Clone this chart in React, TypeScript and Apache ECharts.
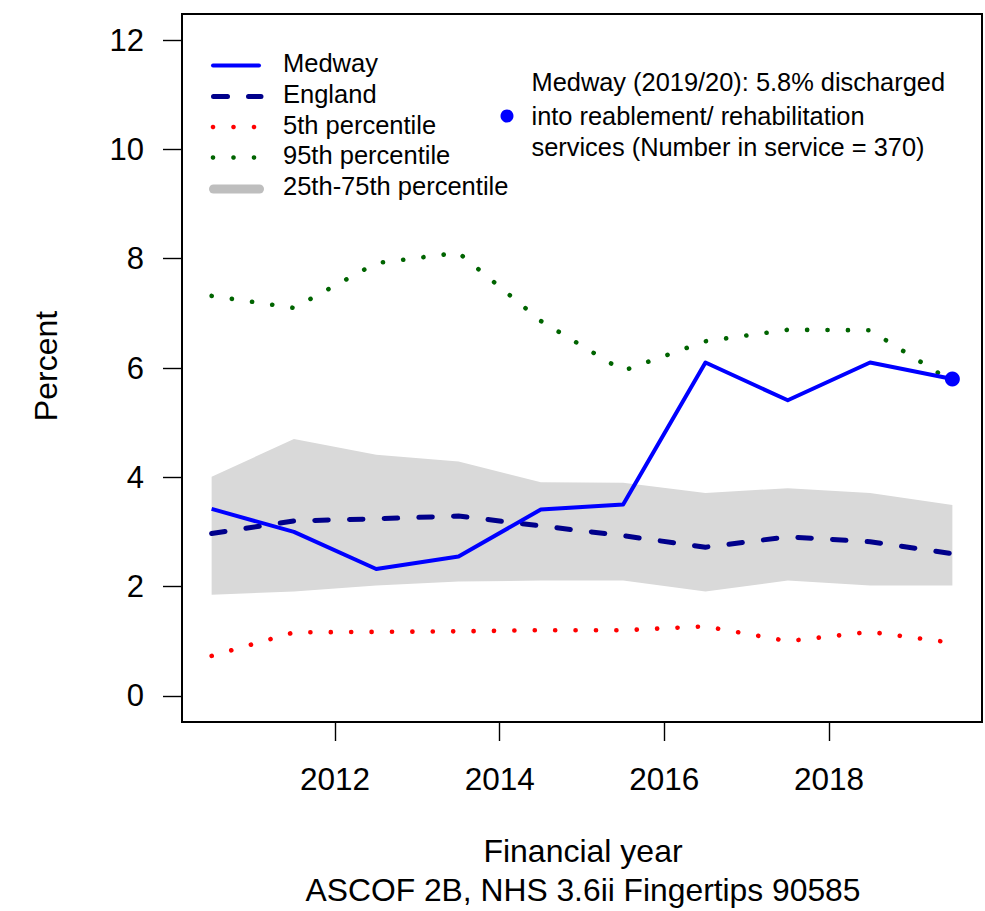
import React, { useEffect, useRef } from "react";
import * as echarts from "echarts";

const years = [2010.5, 2011.5, 2012.5, 2013.5, 2014.5, 2015.5, 2016.5, 2017.5, 2018.5, 2019.5];
const medway = [3.42, 3.0, 2.32, 2.55, 3.41, 3.5, 6.1, 5.41, 6.1, 5.8];
const england = [2.97, 3.2, 3.24, 3.29, 3.11, 2.93, 2.72, 2.91, 2.82, 2.6];
const p5 = [0.73, 1.16, 1.17, 1.18, 1.2, 1.2, 1.27, 1.0, 1.17, 0.97];
const p95 = [7.32, 7.1, 7.92, 8.11, 6.86, 5.95, 6.49, 6.7, 6.69, 5.75];
const p25 = [1.85, 1.91, 2.02, 2.09, 2.11, 2.11, 1.91, 2.11, 2.02, 2.02];
const p75 = [4.01, 4.7, 4.41, 4.29, 3.91, 3.9, 3.71, 3.8, 3.71, 3.49];
const xTicks = [2012, 2014, 2016, 2018];
const yTicks = [0, 2, 4, 6, 8, 10, 12];
const legendNames = ["Medway", "England", "5th percentile", "95th percentile", "25th-75th percentile"];
const noteLines = [
  "Medway (2019/20): 5.8% discharged",
  "into reablement/ rehabilitation",
  "services (Number in service = 370)",
];
const xTitle = "Financial year";
const subTitle = "ASCOF 2B, NHS 3.6ii Fingertips 90585";
const yTitle = "Percent";

const FONT = "'Liberation Sans', Arial, Helvetica, sans-serif";

export default function App() {
  const ref = useRef<HTMLDivElement>(null);
  useEffect(() => {
    if (!ref.current) return;
    const chart = echarts.init(ref.current, null, { renderer: "svg" });
    const pair = (arr: number[]) => years.map((y, i) => [y, arr[i]]);
    const legendRowY = [63, 93.5, 124.5, 155, 185.5];
    const legendSymY = [65.5, 96.5, 127, 157.5, 189];
    const txt = (text: string, x: number, y: number, size: number, extra: any = {}) => ({
      type: "text",
      x,
      y,
      silent: true,
      style: { text, fontSize: size, fontFamily: FONT, fill: "#000", align: "left", verticalAlign: "middle", ...extra },
    });
    const graphics: any[] = [
      // legend symbols
      { type: "line", shape: { x1: 213, y1: legendSymY[0], x2: 259, y2: legendSymY[0] }, style: { stroke: "#0000ff", lineWidth: 4, lineCap: "round" } },
      { type: "line", shape: { x1: 213.5, y1: legendSymY[1], x2: 261, y2: legendSymY[1] }, style: { stroke: "#00008b", lineWidth: 5, lineCap: "round", lineDash: [14, 21] } },
      ...[213, 233.5, 254].map((x) => ({ type: "circle", shape: { cx: x, cy: legendSymY[2], r: 2.3 }, style: { fill: "#ff0000" } })),
      ...[213, 233.5, 254].map((x) => ({ type: "circle", shape: { cx: x, cy: legendSymY[3], r: 2.3 }, style: { fill: "#006400" } })),
      { type: "line", shape: { x1: 213.5, y1: legendSymY[4], x2: 259.5, y2: legendSymY[4] }, style: { stroke: "#bebebe", lineWidth: 9, lineCap: "round" } },
      ...legendNames.map((n, i) => txt(n, 283, legendRowY[i], 25.5)),
      // annotation
      { type: "circle", shape: { cx: 507, cy: 116, r: 6.5 }, style: { fill: "#0000ff" } },
      txt(noteLines[0], 531.5, 82, 25.4),
      txt(noteLines[1], 531.5, 116, 25.4),
      txt(noteLines[2], 531.5, 146.5, 25.4),
      // titles
      txt(xTitle, 583, 851, 32, { align: "center" }),
      txt(subTitle, 583, 889.5, 31.8, { align: "center" }),
      { ...txt(yTitle, 46, 366, 32, { align: "center" }), rotation: Math.PI / 2 },
    ];

    chart.setOption({
      animation: false,
      backgroundColor: "#fff",
      grid: {
        left: 182,
        top: 14,
        width: 800,
        height: 708,
        show: true,
        borderColor: "#000",
        borderWidth: 2,
        backgroundColor: "transparent",
        containLabel: false,
      },
      xAxis: {
        type: "value",
        position: "bottom",
        min: 2010.14,
        max: 2019.86,
        axisLine: { show: false, onZero: false },
        splitLine: { show: false },
        axisTick: { show: true, inside: false, length: 19, lineStyle: { color: "#000", width: 1.4 }, customValues: xTicks },
        axisLabel: { customValues: xTicks, fontSize: 31.5, color: "#000", margin: 41, fontFamily: FONT, formatter: (v: number) => String(v) },
      },
      yAxis: {
        type: "value",
        position: "left",
        min: -0.48,
        max: 12.48,
        axisLine: { show: false, onZero: false },
        splitLine: { show: false },
        axisTick: { show: true, inside: false, length: 19, lineStyle: { color: "#000", width: 1.4 }, customValues: yTicks },
        axisLabel: { customValues: yTicks, fontSize: 31, color: "#000", margin: 38, fontFamily: FONT, formatter: (v: number) => String(v) },
      },
      series: [
        {
          type: "custom",
          name: "band",
          data: years.map((y, i) => [y, p25[i], p75[i]]),
          encode: { x: 0, y: [1, 2] },
          silent: true,
          z: 1,
          renderItem: (params: any, api: any) => {
            if (params.dataIndex !== 0) return null;
            const up = years.map((y, i) => api.coord([y, p75[i]]));
            const lo = years.map((y, i) => api.coord([y, p25[i]])).reverse();
            return { type: "polygon", shape: { points: up.concat(lo) }, style: { fill: "#d9d9d9", stroke: null } };
          },
        },
        {
          type: "line",
          name: "5th percentile",
          data: pair(p5),
          symbol: "none",
          z: 2,
          lineStyle: { color: "#ff0000", width: 4.6, type: [0.1, 20.3], cap: "round" },
        },
        {
          type: "line",
          name: "95th percentile",
          data: pair(p95),
          symbol: "none",
          z: 2,
          lineStyle: { color: "#006400", width: 4.6, type: [0.1, 20.3], cap: "round" },
        },
        {
          type: "line",
          name: "England",
          data: pair(england),
          symbol: "none",
          z: 3,
          lineStyle: { color: "#00008b", width: 5, type: [13.5, 21.2], cap: "round", join: "round" },
        },
        {
          type: "line",
          name: "Medway",
          data: pair(medway),
          symbol: "none",
          z: 4,
          lineStyle: { color: "#0000ff", width: 4, join: "round" },
        },
        {
          type: "scatter",
          name: "Medway latest",
          data: [[years[years.length - 1], medway[medway.length - 1]]],
          symbol: "circle",
          symbolSize: 15,
          z: 5,
          itemStyle: { color: "#0000ff", opacity: 1 },
        },
      ],
      graphic: graphics,
    });
    return () => chart.dispose();
  }, []);
  return <div ref={ref} style={{ position: "absolute", left: 0, top: 0, width: 985, height: 911 }} />;
}
